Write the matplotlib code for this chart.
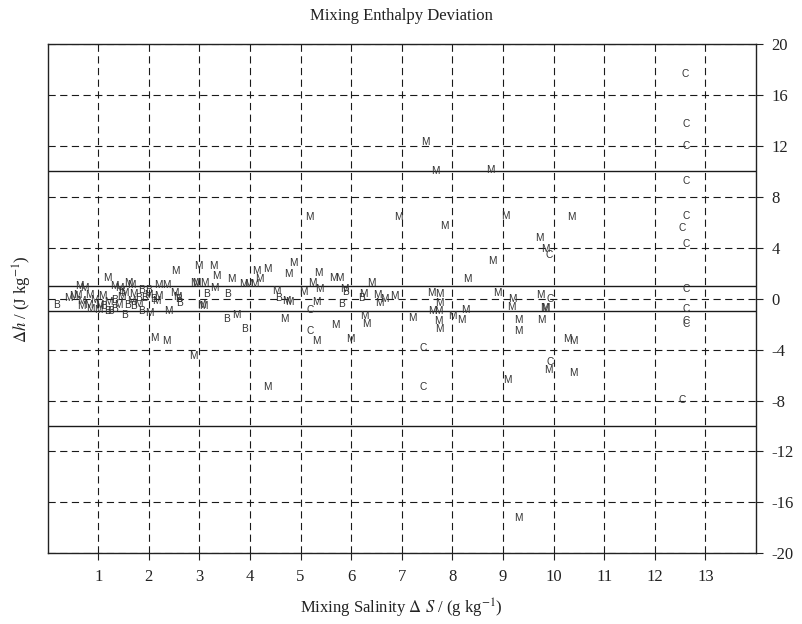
import matplotlib
matplotlib.use("Agg")
import matplotlib.pyplot as plt

# M points (salinity, enthalpy deviation)
m_x = [0.40, 0.50, 0.63, 0.73, 0.59, 0.83, 0.66, 0.66, 0.80, 0.93, 1.03, 1.09,
       1.19, 1.32, 1.42, 1.51, 1.59, 1.66, 2.18, 2.35, 2.18, 2.15, 2.51, 2.57,
       2.91, 3.04, 2.02, 2.38, 1.20, 1.45, 1.70, 1.80, 1.00, 0.85, 1.65, 2.00,
       1.40,
       2.53, 2.97, 3.27, 3.34, 2.94, 3.10, 3.30, 3.63, 3.86, 3.96, 4.09, 4.19,
       4.12, 4.35, 4.75, 4.85, 3.07, 3.74, 4.68, 4.53, 4.72, 2.10, 2.35, 2.89,
       4.35,
       5.36, 5.64, 5.77, 5.24, 5.37, 5.06, 5.87, 6.39, 4.77, 5.31, 5.31, 5.69,
       5.98, 6.26, 6.29, 6.24, 6.52, 6.56, 6.65, 6.85, 7.20, 7.58, 7.74, 7.74,
       7.73, 7.73, 7.74, 7.61, 8.00, 8.17, 8.25, 8.30, 8.79, 8.89, 9.19, 9.17,
       9.30, 9.30, 9.09,
       9.73, 9.81, 9.84, 9.75, 10.27, 10.40, 9.90, 10.40, 9.84,
       7.46, 7.67, 8.76, 6.94, 7.84, 9.04, 10.35, 9.71, 5.18, 9.30]
m_y = [0.05, 0.18, 0.96, 0.83, 0.31, 0.31, -0.21, -0.60, -0.47, -0.08, -0.47, 0.18,
       1.62, 0.96, 0.83, 0.44, 1.22, 1.10, 1.10, 1.10, 0.18, -0.21, 0.44, 0.10,
       1.22, -0.47, -1.13, -1.00, -0.30, 0.10, 0.40, -0.40, -0.90, -0.80, -0.20, 0.30,
       -0.50,
       2.16, 2.56, 2.56, 1.77, 1.25, 1.25, 0.86, 1.51, 1.12, 1.12, 1.12, 1.51,
       2.16, 2.30, 1.91, 2.82, -0.58, -1.31, -1.62, 0.60, -0.19, -3.06, -3.33, -4.50,
       -6.90,
       2.04, 1.65, 1.65, 1.25, 0.73, 0.52, 0.73, 1.25, -0.27, -0.27, -3.33, -2.09,
       -3.14, -1.36, -2.02, 0.34, 0.26, -0.31, 0.00, 0.20, -1.55, 0.47, 0.34, -0.31,
       -0.97, -1.76, -2.41, -0.97, -1.36, -1.68, -0.92, 1.51, 2.95, 0.47, -0.05, -0.63,
       -1.68, -2.54, -6.41,
       0.26, -0.71, -0.71, -1.68, -3.19, -3.33, -5.60, -5.86, 3.87,
       12.28, 10.00, 10.14, 6.40, 5.69, 6.48, 6.40, 4.78, 6.45, -17.25]

# B points
b_x = [0.17, 1.32, 1.32, 1.18, 1.51, 1.86, 1.99, 1.79, 1.92, 1.58, 2.61, 1.86,
       3.14, 3.56, 3.53, 3.89, 4.57, 2.58, 5.89, 5.80, 6.21, 1.10, 1.70, 2.10,
       1.45, 1.25]
b_y = [-0.47, -0.08, -0.80, -1.00, -1.26, 0.70, 0.70, 0.05, 0.05, -0.47, -0.34, -1.00,
       0.34, 0.34, -1.62, -2.41, 0.08, -0.05, 0.52, -0.45, 0.08, -0.60, -0.60, 0.00,
       0.60, -0.95]

# C points
c_x = [5.18, 5.18, 7.42, 7.42, 9.94, 9.94, 12.61, 12.61, 12.62, 12.62, 12.54, 9.92,
       12.61, 12.61, 12.61, 12.61, 12.54, 12.61, 12.59]
c_y = [-0.92, -2.54, -3.84, -6.93, 0.00, -4.97, 0.78, -0.84, -1.76, -2.02, -7.95, 3.40,
       13.75, 12.02, 9.22, 6.48, 5.57, 4.26, 17.67]

x_ticks = list(range(1, 14))
y_ticks = list(range(-20, 21, 4))
ref_lines = [-10, -1, 1, 10]

plt.rcParams['mathtext.fontset'] = 'stix'
plt.rcParams['axes.unicode_minus'] = False
serif = ['Liberation Serif', 'DejaVu Serif']

fig = plt.figure(figsize=(8.02, 6.24), dpi=100)
ax = fig.add_axes([0.0594, 0.1133, 0.8832, 0.8162])

ax.set_xlim(0, 14)
ax.set_ylim(-20, 20)

# grid
for xv in x_ticks:
    ax.axvline(xv, color='#1a1a1a', lw=0.8, ls=(0, (6.5, 4)), zorder=1)
for yv in y_ticks:
    ax.axhline(yv, color='#1a1a1a', lw=0.8, ls=(0, (6.5, 4)), zorder=1)
for yv in ref_lines:
    ax.axhline(yv, color='#1a1a1a', lw=1.0, zorder=2)

# letter markers
groups = [('M', m_x, m_y), ('B', b_x, b_y), ('C', c_x, c_y)]
for letter, xs, ys in groups:
    for xv, yv in zip(xs, ys):
        ax.text(xv, yv, letter, ha='center', va='center', fontsize=7.3,
                family='Liberation Sans', color='#333333', zorder=3)

ax.set_xticks(x_ticks)
ax.set_yticks(y_ticks)
ax.yaxis.tick_right()
ax.tick_params(axis='both', direction='out', length=5, width=0.8,
               labelsize=12, color='#222222')
for lab in ax.get_xticklabels() + ax.get_yticklabels():
    lab.set_family(serif)
    lab.set_color('#222222')
ax.tick_params(axis='x', pad=6)
ax.tick_params(axis='y', pad=6)

for sp in ax.spines.values():
    sp.set_linewidth(1.0)
    sp.set_color('#222222')

ax.set_title('Mixing Enthalpy Deviation', family=serif, fontsize=12,
             color='#222222', pad=17)
ax.set_xlabel(r'Mixing Salinity $\Delta$ $S$ / (g kg$^{-1}$)', family=serif,
              fontsize=12, color='#222222', labelpad=9)
ax.set_ylabel(r'$\Delta h$ / (J kg$^{-1}$)', family=serif, fontsize=12,
              color='#222222', labelpad=10)
ax.yaxis.set_label_position('left')

fig.savefig('out.png', dpi=100)
